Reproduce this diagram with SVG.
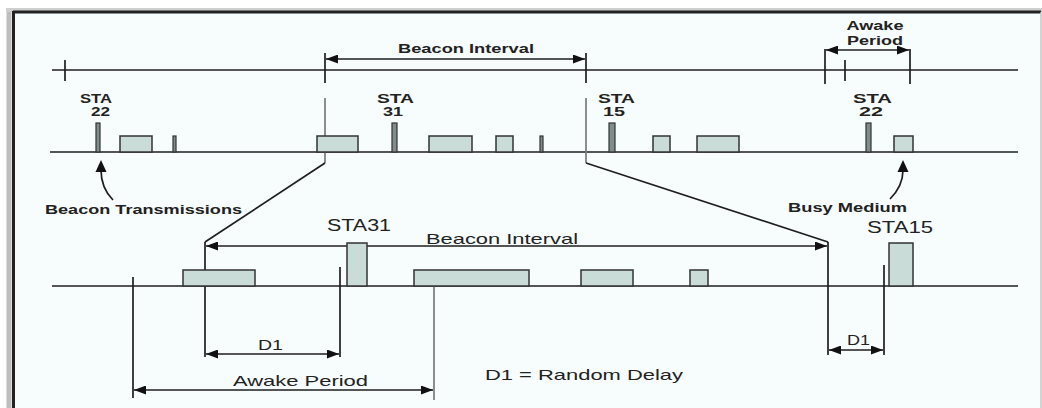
<svg xmlns="http://www.w3.org/2000/svg" width="1042" height="408" viewBox="0 0 1042 408">
<defs>
<marker id="ah" viewBox="0 0 12 9" refX="12" refY="4.5" markerWidth="12" markerHeight="9" markerUnits="userSpaceOnUse" orient="auto-start-reverse">
<path d="M0,0 L12,4.5 L0,9 Z" fill="#111"/>
</marker>
<style>
.ln{stroke:#1e1e1e;stroke-width:1.7;fill:none}
.gl{stroke:#7a7a7a;stroke-width:1.7;fill:none}
.bx{fill:#c9dcd8;stroke:#333;stroke-width:1.5}
.bar{fill:#7f8e8c;stroke:#333;stroke-width:1.2}
.t{font-family:"Liberation Sans",Arial,sans-serif;fill:#222;font-weight:bold}
.tn{font-family:"Liberation Sans",Arial,sans-serif;fill:#222}
</style>
</defs>
<rect x="0" y="0" width="1042" height="408" fill="#ffffff"/>
<rect x="14" y="12" width="1027" height="396" fill="#f7fcfc"/>
<line x1="6" y1="10" x2="1042" y2="10" stroke="#cfcfcf" stroke-width="4"/>
<line x1="13" y1="12" x2="1041" y2="12" stroke="#222" stroke-width="3"/>
<line x1="9" y1="12" x2="9" y2="408" stroke="#bdbdbd" stroke-width="5"/>
<line x1="13.5" y1="11" x2="13.5" y2="408" stroke="#222" stroke-width="3"/>
<line x1="1041" y1="12" x2="1041" y2="408" stroke="#c4c4c4" stroke-width="1.5"/>

<g id="connectors">
<line class="ln" x1="52" y1="70" x2="1018" y2="70"/>
<line class="ln" x1="65" y1="60" x2="65" y2="81"/>
<line class="ln" x1="325" y1="53" x2="325" y2="83"/>
<line class="ln" x1="586" y1="53" x2="586" y2="83"/>
<line class="ln" x1="326" y1="59" x2="585" y2="59" marker-start="url(#ah)" marker-end="url(#ah)"/>
<line class="ln" x1="825" y1="49" x2="825" y2="84"/>
<line class="ln" x1="910" y1="49" x2="910" y2="84"/>
<line class="ln" x1="845" y1="60" x2="845" y2="81"/>
<line class="ln" x1="826" y1="50" x2="909" y2="50" marker-start="url(#ah)" marker-end="url(#ah)"/>
<line class="ln" x1="50" y1="152" x2="1018" y2="152"/>
<line class="gl" x1="325" y1="98" x2="325" y2="163"/>
<line class="gl" x1="586" y1="98" x2="586" y2="163"/>
<line class="ln" x1="325" y1="163" x2="205" y2="242"/>
<line class="ln" x1="586" y1="163" x2="828" y2="242"/>
<path class="ln" d="M101,170 Q101,188 113,200"/>
<path d="M101,160 L106.5,172 L95.5,172 Z" fill="#111"/>
<path class="ln" d="M903,170 Q903,186 890,199"/>
<path d="M903,160 L908.5,172 L897.5,172 Z" fill="#111"/>
<line class="ln" x1="52" y1="286" x2="1018" y2="286"/>
<line class="ln" x1="205" y1="242" x2="205" y2="357"/>
<line class="ln" x1="828" y1="242" x2="828" y2="355"/>
<line class="ln" x1="206" y1="246" x2="827" y2="246" marker-start="url(#ah)" marker-end="url(#ah)"/>
<line class="ln" x1="340" y1="267" x2="340" y2="357"/>
<line class="ln" x1="206" y1="354" x2="339" y2="354" marker-start="url(#ah)" marker-end="url(#ah)"/>
<line class="ln" x1="884" y1="265" x2="884" y2="355"/>
<line class="ln" x1="829" y1="350" x2="883" y2="350" marker-start="url(#ah)" marker-end="url(#ah)"/>
<line class="ln" x1="133" y1="277" x2="133" y2="398"/>
<line class="gl" x1="434" y1="286" x2="434" y2="400"/>
<line class="ln" x1="134" y1="390" x2="433" y2="390" marker-start="url(#ah)" marker-end="url(#ah)"/>
</g>

<g id="top-row">
<rect class="bar" x="96" y="123" width="4" height="29"/>
<rect class="bx" x="120" y="136" width="32" height="16"/>
<rect class="bar" x="173" y="136" width="3" height="16"/>
<rect class="bx" x="317" y="136" width="41" height="16"/>
<rect class="bar" x="392" y="123" width="5" height="29"/>
<rect class="bx" x="429" y="136" width="43" height="16"/>
<rect class="bx" x="496" y="136" width="17" height="16"/>
<rect class="bar" x="540" y="136" width="3" height="16"/>
<rect class="bar" x="609" y="123" width="6" height="29"/>
<rect class="bx" x="653" y="136" width="17" height="16"/>
<rect class="bx" x="697" y="136" width="42" height="16"/>
<rect class="bar" x="866" y="123" width="5" height="29"/>
<rect class="bx" x="894" y="136" width="19" height="16"/>
</g>

<g id="bottom-row">
<rect class="bx" x="183" y="270" width="72" height="16"/>
<rect class="bx" x="347" y="243" width="20" height="43"/>
<rect class="bx" x="414" y="270" width="115" height="16"/>
<rect class="bx" x="581" y="270" width="52" height="16"/>
<rect class="bx" x="690" y="270" width="18" height="16"/>
<rect class="bx" x="889" y="243" width="24" height="43"/>
</g>

<g id="labels">
<text class="t" x="466" y="52.5" font-size="12.5" text-anchor="middle" textLength="136" lengthAdjust="spacingAndGlyphs">Beacon Interval</text>
<text class="t" x="875" y="29.5" font-size="12.5" text-anchor="middle" textLength="57" lengthAdjust="spacingAndGlyphs">Awake</text>
<text class="t" x="875" y="44.5" font-size="12.5" text-anchor="middle" textLength="56" lengthAdjust="spacingAndGlyphs">Period</text>
<text class="t" x="96" y="102.5" font-size="12.5" text-anchor="middle" textLength="32" lengthAdjust="spacingAndGlyphs">STA</text>
<text class="t" x="100.5" y="115.5" font-size="12.5" text-anchor="middle" textLength="19" lengthAdjust="spacingAndGlyphs">22</text>
<text class="t" x="395.5" y="102.5" font-size="12.5" text-anchor="middle" textLength="37" lengthAdjust="spacingAndGlyphs">STA</text>
<text class="t" x="393" y="115.5" font-size="12.5" text-anchor="middle" textLength="20" lengthAdjust="spacingAndGlyphs">31</text>
<text class="t" x="616.5" y="102.5" font-size="12.5" text-anchor="middle" textLength="37" lengthAdjust="spacingAndGlyphs">STA</text>
<text class="t" x="614" y="115.5" font-size="12.5" text-anchor="middle" textLength="22" lengthAdjust="spacingAndGlyphs">15</text>
<text class="t" x="872.5" y="102.5" font-size="12.5" text-anchor="middle" textLength="39" lengthAdjust="spacingAndGlyphs">STA</text>
<text class="t" x="871" y="115.5" font-size="12.5" text-anchor="middle" textLength="24" lengthAdjust="spacingAndGlyphs">22</text>
<text class="t" x="143.5" y="214" font-size="13.5" text-anchor="middle" textLength="197" lengthAdjust="spacingAndGlyphs">Beacon Transmissions</text>
<text class="t" x="847.5" y="212" font-size="13.5" text-anchor="middle" textLength="119" lengthAdjust="spacingAndGlyphs">Busy Medium</text>
<text class="tn" x="359" y="231" font-size="16" text-anchor="middle" textLength="64" lengthAdjust="spacingAndGlyphs">STA31</text>
<text class="tn" x="900" y="233" font-size="16" text-anchor="middle" textLength="66" lengthAdjust="spacingAndGlyphs">STA15</text>
<text class="tn" x="502" y="243.5" font-size="15" text-anchor="middle" textLength="152" lengthAdjust="spacingAndGlyphs">Beacon Interval</text>
<text class="tn" x="270.5" y="349.5" font-size="15" text-anchor="middle" textLength="25" lengthAdjust="spacingAndGlyphs">D1</text>
<text class="tn" x="858.5" y="344.5" font-size="15" text-anchor="middle" textLength="23" lengthAdjust="spacingAndGlyphs">D1</text>
<text class="tn" x="300.5" y="385.5" font-size="15" text-anchor="middle" textLength="135" lengthAdjust="spacingAndGlyphs">Awake Period</text>
<text class="tn" x="584" y="379.5" font-size="15" text-anchor="middle" textLength="198" lengthAdjust="spacingAndGlyphs">D1 = Random Delay</text>
</g>
</svg>
